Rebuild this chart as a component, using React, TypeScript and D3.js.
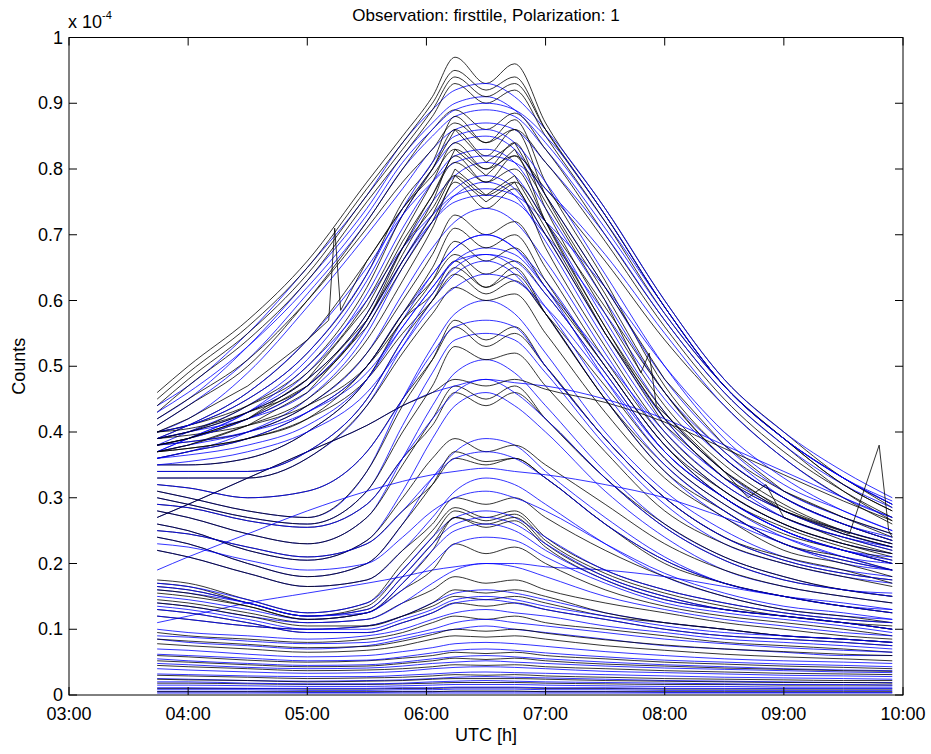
import React from "react";
import * as d3 from "d3";

// Time grid (hours UTC) shared by the series
const TIME_GRID = [3.74, 4.0, 4.5, 5.0, 5.5, 5.8, 6.05, 6.24, 6.5, 6.74, 7.0, 7.5, 8.0, 8.5, 9.0, 9.5, 9.91];

// Model curves (blue), values in units of 1e-4 counts
const BLUE_SERIES: number[][] = [
  [.44,.47,.55,.65,.76,.84,.89,.92,.93,.91,.86,.74,.60,.48,.40,.34,.30],
  [.42,.45,.53,.63,.74,.82,.87,.90,.91,.89,.84,.72,.59,.47,.39,.33,.295],
  [.41,.44,.51,.61,.72,.80,.85,.88,.89,.88,.83,.71,.58,.47,.39,.33,.29],
  [.40,.42,.49,.59,.70,.77,.83,.86,.87,.86,.81,.70,.57,.46,.38,.32,.285],
  [.38,.40,.44,.51,.63,.73,.80,.84,.85,.83,.76,.62,.48,.38,.31,.27,.245],
  [.37,.39,.43,.49,.61,.71,.78,.82,.83,.81,.74,.60,.46,.37,.30,.26,.24],
  [.39,.40,.43,.48,.58,.68,.75,.79,.81,.79,.72,.57,.43,.34,.28,.25,.23],
  [.36,.37,.40,.45,.55,.65,.72,.76,.78,.76,.69,.54,.41,.33,.27,.24,.225],
  [.37,.38,.40,.44,.52,.61,.68,.72,.74,.72,.66,.52,.39,.31,.26,.23,.215],
  [.35,.35,.36,.40,.48,.57,.64,.68,.70,.68,.62,.48,.36,.29,.24,.21,.20],
  [.33,.33,.33,.36,.44,.53,.60,.64,.66,.64,.58,.45,.34,.27,.23,.20,.19],
  [.31,.30,.28,.27,.34,.45,.53,.58,.60,.58,.52,.40,.31,.25,.21,.19,.18],
  [.30,.29,.27,.26,.31,.41,.49,.54,.55,.54,.49,.38,.29,.23,.20,.18,.17],
  [.28,.27,.245,.23,.27,.36,.44,.49,.51,.49,.44,.34,.26,.21,.18,.16,.155],
  [.26,.25,.22,.205,.235,.31,.39,.44,.46,.44,.40,.31,.24,.19,.165,.15,.14],
  [.24,.23,.20,.18,.20,.26,.33,.37,.39,.38,.34,.27,.21,.17,.15,.135,.13],
  [.22,.21,.185,.165,.175,.22,.27,.31,.33,.32,.29,.23,.18,.15,.13,.12,.115],
  [.27,.29,.33,.37,.41,.44,.46,.47,.48,.475,.47,.45,.42,.38,.34,.30,.27],
  [.19,.21,.245,.28,.31,.325,.335,.34,.345,.34,.335,.32,.30,.27,.24,.21,.19],
  [.11,.12,.14,.155,.17,.18,.19,.195,.20,.20,.195,.19,.18,.165,.15,.14,.13],
  [.17,.165,.145,.125,.14,.19,.24,.27,.28,.27,.24,.19,.16,.14,.125,.115,.11],
  [.16,.155,.14,.12,.13,.18,.23,.26,.27,.26,.23,.18,.15,.13,.12,.11,.10],
  [.15,.145,.13,.115,.125,.16,.20,.23,.24,.235,.21,.17,.14,.125,.115,.105,.095],
  [.14,.135,.12,.11,.115,.14,.17,.19,.20,.195,.18,.15,.13,.115,.105,.095,.09],
  [.12,.115,.105,.10,.105,.12,.14,.155,.16,.155,.145,.125,.11,.10,.09,.085,.08],
  [.10,.095,.09,.085,.09,.10,.115,.125,.13,.125,.12,.105,.095,.085,.08,.075,.07],
  [.085,.08,.075,.07,.075,.085,.095,.10,.105,.10,.095,.085,.075,.07,.065,.06,.06],
  [.07,.068,.062,.058,.06,.066,.072,.078,.08,.078,.074,.066,.06,.055,.052,.05,.048],
  [.055,.052,.048,.045,.046,.05,.055,.058,.06,.058,.055,.05,.046,.043,.04,.038,.037],
  [.04,.038,.035,.033,.034,.036,.04,.042,.043,.042,.04,.036,.034,.032,.03,.029,.028],
  [.025,.024,.022,.021,.022,.023,.025,.027,.028,.027,.026,.024,.022,.021,.02,.019,.019],
  [.015,.015,.014,.013,.013,.014,.015,.016,.016,.016,.015,.014,.013,.013,.012,.012,.012],
  [.008,.008,.008,.007,.007,.008,.008,.009,.009,.009,.008,.008,.007,.007,.007,.007,.007],
  [.40,.41,.45,.52,.64,.74,.81,.85,.86,.84,.78,.64,.50,.39,.32,.28,.25],
  [.36,.37,.39,.43,.50,.58,.64,.68,.70,.68,.63,.50,.38,.30,.25,.22,.21],
  [.38,.385,.40,.43,.49,.56,.62,.66,.68,.67,.62,.51,.40,.32,.27,.24,.22],
  [.35,.355,.37,.40,.46,.53,.59,.62,.64,.63,.59,.48,.37,.30,.25,.22,.20],
  [.39,.41,.46,.54,.65,.73,.78,.81,.82,.81,.77,.67,.55,.44,.36,.30,.27],
  [.37,.39,.43,.50,.60,.68,.73,.76,.77,.76,.72,.62,.50,.40,.33,.28,.25],
  [.135,.13,.115,.10,.10,.115,.13,.145,.15,.145,.135,.12,.105,.095,.09,.085,.08],
  [.005,.005,.005,.004,.004,.005,.005,.005,.005,.005,.005,.005,.004,.004,.004,.004,.004],
  [.048,.046,.042,.04,.041,.044,.048,.05,.052,.05,.048,.044,.041,.039,.037,.035,.034],
  [.032,.031,.029,.028,.028,.03,.032,.034,.035,.034,.033,.031,.029,.027,.026,.025,.024],
  [.39,.40,.42,.46,.56,.66,.73,.77,.79,.77,.70,.55,.42,.33,.28,.245,.225],
  [.36,.365,.38,.41,.48,.56,.62,.66,.67,.66,.61,.49,.37,.30,.25,.22,.205],
  [.34,.34,.34,.37,.45,.54,.61,.65,.67,.65,.59,.46,.35,.28,.23,.205,.19],
  [.32,.315,.30,.31,.37,.45,.52,.56,.57,.56,.50,.39,.30,.24,.205,.185,.175],
  [.29,.285,.265,.255,.29,.36,.42,.46,.48,.46,.42,.33,.255,.205,.175,.16,.15],
  [.25,.245,.225,.21,.23,.28,.33,.36,.37,.36,.33,.26,.205,.17,.15,.135,.125],
  [.23,.225,.205,.19,.20,.24,.28,.30,.31,.30,.28,.23,.185,.155,.135,.125,.115],
  [.165,.16,.14,.12,.125,.17,.22,.25,.26,.25,.22,.175,.145,.13,.12,.11,.10],
  [.13,.125,.11,.095,.095,.11,.125,.14,.145,.14,.13,.115,.10,.09,.085,.08,.075],
  [.09,.088,.082,.078,.08,.09,.10,.11,.115,.11,.105,.095,.085,.078,.072,.068,.065],
  [.062,.06,.056,.052,.053,.058,.064,.068,.07,.068,.064,.058,.053,.05,.047,.045,.043],
  [.02,.02,.018,.017,.017,.018,.02,.021,.022,.021,.02,.019,.018,.017,.016,.016,.015],
  [.011,.011,.01,.01,.01,.011,.011,.012,.012,.012,.011,.011,.01,.01,.01,.01,.01],
  [.003,.003,.003,.003,.003,.003,.003,.003,.003,.003,.003,.003,.003,.003,.003,.003,.003],
  [.43,.46,.53,.62,.73,.81,.86,.89,.90,.89,.85,.73,.59,.47,.39,.33,.29],
  [.38,.39,.42,.47,.57,.66,.72,.75,.76,.75,.70,.58,.45,.36,.30,.26,.235],
];

// Measured curves (black), values in units of 1e-4 counts
const BLACK_SERIES: number[][] = [
  [.46,.50,.57,.66,.78,.85,.91,.97,.93,.96,.87,.74,.60,.48,.40,.33,.29],
  [.45,.49,.56,.65,.77,.84,.90,.95,.92,.94,.86,.73,.59,.47,.39,.33,.285],
  [.43,.47,.54,.63,.75,.82,.88,.93,.90,.92,.85,.72,.58,.47,.39,.32,.28],
  [.41,.44,.50,.60,.72,.80,.86,.89,.86,.885,.83,.70,.57,.46,.38,.31,.265],
  [.40,.41,.45,.52,.64,.75,.81,.88,.84,.875,.78,.63,.47,.37,.31,.27,.24],
  [.39,.40,.44,.50,.62,.73,.80,.86,.82,.86,.76,.61,.46,.36,.30,.26,.235],
  [.40,.41,.44,.49,.60,.70,.78,.84,.80,.84,.74,.58,.44,.35,.29,.25,.23],
  [.38,.39,.42,.47,.57,.67,.75,.82,.78,.82,.72,.56,.42,.33,.28,.245,.225],
  [.37,.38,.41,.45,.54,.63,.71,.78,.74,.77,.68,.53,.40,.32,.27,.24,.22],
  [.38,.385,.40,.44,.52,.60,.67,.73,.70,.72,.65,.51,.39,.31,.26,.23,.215],
  [.39,.395,.41,.44,.50,.57,.63,.69,.66,.68,.62,.50,.38,.31,.26,.23,.21],
  [.35,.35,.36,.40,.48,.57,.61,.66,.62,.65,.58,.45,.34,.28,.23,.21,.19],
  [.33,.33,.33,.36,.44,.52,.58,.62,.60,.61,.55,.43,.33,.27,.22,.20,.18],
  [.31,.30,.28,.27,.34,.44,.51,.57,.54,.56,.50,.39,.30,.24,.21,.19,.17],
  [.30,.29,.27,.26,.31,.40,.47,.53,.51,.52,.47,.37,.28,.23,.20,.18,.165],
  [.28,.27,.245,.23,.27,.35,.42,.47,.45,.47,.42,.33,.26,.21,.18,.16,.15],
  [.26,.25,.22,.205,.235,.30,.36,.39,.37,.38,.35,.29,.23,.19,.165,.15,.14],
  [.24,.23,.20,.18,.20,.26,.32,.37,.355,.36,.33,.26,.20,.17,.15,.135,.125],
  [.22,.21,.185,.165,.175,.22,.26,.30,.29,.30,.27,.22,.18,.15,.13,.12,.11],
  [.175,.17,.145,.125,.14,.20,.25,.285,.27,.28,.24,.19,.16,.14,.125,.115,.11],
  [.17,.165,.14,.12,.135,.19,.24,.28,.265,.275,.235,.185,.155,.135,.12,.11,.105],
  [.165,.16,.14,.12,.13,.18,.23,.27,.26,.27,.23,.18,.15,.13,.12,.11,.10],
  [.155,.15,.135,.115,.125,.16,.19,.23,.215,.225,.20,.16,.135,.12,.11,.10,.09],
  [.145,.14,.125,.11,.115,.14,.16,.18,.17,.175,.16,.14,.125,.11,.10,.09,.085],
  [.12,.115,.105,.10,.105,.12,.135,.15,.145,.15,.14,.12,.11,.10,.09,.085,.08],
  [.095,.09,.085,.08,.085,.095,.11,.12,.115,.12,.11,.10,.09,.08,.075,.07,.065],
  [.078,.075,.07,.065,.068,.075,.085,.09,.088,.09,.085,.075,.068,.062,.058,.055,.052],
  [.06,.058,.053,.05,.052,.056,.06,.065,.063,.065,.06,.055,.05,.047,.044,.042,.04],
  [.045,.043,.04,.037,.038,.04,.043,.046,.045,.046,.043,.04,.037,.035,.033,.032,.031],
  [.03,.029,.027,.025,.026,.027,.029,.031,.03,.031,.029,.027,.025,.024,.023,.022,.022],
  [.018,.018,.017,.016,.016,.017,.018,.019,.019,.019,.018,.017,.016,.016,.015,.015,.015],
  [.01,.01,.01,.009,.009,.01,.01,.011,.011,.011,.01,.01,.009,.009,.009,.009,.009],
  [.42,.45,.51,.60,.71,.78,.83,.87,.84,.86,.81,.69,.56,.45,.37,.31,.27],
  [.39,.41,.46,.54,.66,.74,.79,.83,.80,.82,.77,.66,.54,.44,.36,.30,.26],
  [.36,.37,.39,.43,.50,.58,.63,.67,.64,.66,.61,.49,.37,.30,.25,.22,.20],
  [.37,.375,.39,.42,.48,.55,.60,.64,.61,.63,.58,.47,.36,.29,.245,.22,.20],
  [.27,.29,.33,.37,.41,.44,.46,.48,.47,.48,.465,.445,.415,.375,.335,.295,.265],
  [.14,.135,.12,.105,.105,.12,.14,.16,.155,.16,.15,.125,.11,.10,.09,.085,.08],
  [.40,.405,.43,.47,.57,.68,.76,.81,.78,.80,.72,.56,.43,.34,.285,.25,.23],
  [.37,.375,.39,.42,.50,.58,.65,.71,.68,.70,.63,.50,.38,.30,.255,.225,.205],
  [.34,.34,.34,.37,.45,.54,.60,.65,.62,.64,.58,.45,.35,.28,.23,.205,.19],
  [.32,.315,.30,.31,.37,.45,.51,.56,.53,.55,.50,.39,.30,.24,.205,.185,.175],
  [.29,.285,.265,.255,.29,.36,.41,.46,.44,.46,.42,.33,.255,.205,.175,.16,.15],
  [.25,.245,.225,.21,.23,.28,.32,.36,.35,.36,.33,.26,.205,.17,.15,.135,.125],
  [.16,.155,.135,.115,.125,.17,.22,.27,.255,.265,.225,.175,.145,.13,.12,.11,.10],
  [.13,.125,.11,.095,.095,.11,.125,.14,.135,.14,.13,.115,.10,.09,.085,.08,.075],
  [.085,.082,.077,.072,.074,.082,.092,.10,.097,.10,.094,.084,.076,.07,.066,.062,.06],
  [.052,.05,.046,.043,.044,.048,.052,.056,.054,.056,.052,.047,.044,.041,.039,.037,.036],
  [.024,.023,.022,.02,.021,.022,.024,.025,.025,.025,.024,.022,.021,.02,.019,.019,.018],
  [.005,.005,.005,.005,.005,.005,.005,.006,.006,.006,.005,.005,.005,.005,.005,.005,.005],
  [.44,.48,.55,.64,.76,.83,.89,.94,.91,.93,.86,.73,.59,.47,.39,.32,.28],
  [.39,.40,.43,.48,.58,.68,.74,.79,.76,.78,.72,.59,.46,.36,.30,.26,.235],
];

// Measured curves with glitches (black), each with its own time stamps
const SPIKE_TIMES: number[][] = [
  [3.74, 4.0, 4.5, 5.0, 5.18, 5.23, 5.28, 5.5, 5.8, 6.05, 6.24, 6.5, 6.74, 7.0, 7.5, 8.0, 8.5, 9.0, 9.5, 9.91],
  [3.74, 4.0, 4.5, 5.0, 5.5, 5.8, 6.05, 6.24, 6.5, 6.74, 7.0, 7.5, 7.8, 7.87, 7.93, 8.5, 9.0, 9.5, 9.91],
  [3.74, 4.0, 4.5, 5.0, 5.5, 5.8, 6.05, 6.24, 6.5, 6.74, 7.0, 7.5, 8.0, 8.5, 9.0, 9.55, 9.8, 9.88, 9.91],
  [3.74, 4.0, 4.5, 5.0, 5.5, 5.8, 6.05, 6.24, 6.5, 6.74, 7.0, 7.5, 8.0, 8.5, 8.7, 8.85, 9.0, 9.5, 9.91],
];
const SPIKE_VALUES: number[][] = [
  [.40, .42, .47, .54, .57, .71, .585, .66, .74, .80, .86, .81, .84, .76, .62, .48, .38, .31, .27, .245],
  [.38, .39, .42, .48, .59, .69, .76, .83, .79, .83, .75, .60, .49, .52, .44, .34, .28, .245, .225],
  [.38, .39, .42, .47, .57, .66, .73, .80, .76, .79, .71, .55, .41, .33, .28, .245, .38, .25, .24],
  [.37, .38, .41, .46, .56, .65, .72, .79, .75, .78, .70, .55, .42, .34, .30, .32, .27, .235, .215],
];

const X_TICKS = [3, 4, 5, 6, 7, 8, 9, 10];
const X_TICK_LABELS = ["03:00", "04:00", "05:00", "06:00", "07:00", "08:00", "09:00", "10:00"];
const Y_TICKS = [0, 0.1, 0.2, 0.3, 0.4, 0.5, 0.6, 0.7, 0.8, 0.9, 1];
const Y_TICK_LABELS = ["0", "0.1", "0.2", "0.3", "0.4", "0.5", "0.6", "0.7", "0.8", "0.9", "1"];

const TITLE = "Observation: firsttile, Polarization: 1";
const X_LABEL = "UTC [h]";
const Y_LABEL = "Counts";

export default function App() {
  const W = 931, H = 754;
  const left = 69, right = 903, top = 37.5, bottom = 695;
  const x = d3.scaleLinear().domain([3, 10]).range([left, right]);
  const y = d3.scaleLinear().domain([0, 1]).range([bottom, top]);
  const font = "'Liberation Sans', Arial, Helvetica, sans-serif";

  const gridLine = d3.line<number>()
    .x((_, i) => x(TIME_GRID[i]))
    .y((d) => y(d))
    .curve(d3.curveMonotoneX);
  const pairLine = d3.line<[number, number]>()
    .x((d) => x(d[0]))
    .y((d) => y(d[1]))
    .curve(d3.curveLinear);

  const n = Math.max(BLUE_SERIES.length, BLACK_SERIES.length);
  const paths: React.ReactNode[] = [];
  for (let i = 0; i < n; i++) {
    if (i < BLACK_SERIES.length) {
      paths.push(
        <path key={"k" + i} d={gridLine(BLACK_SERIES[i]) || ""} fill="none" stroke="#000" strokeWidth={0.8} />
      );
    }
    if (i < BLUE_SERIES.length) {
      paths.push(
        <path key={"b" + i} d={gridLine(BLUE_SERIES[i]) || ""} fill="none" stroke="#0000ff" strokeWidth={0.8} />
      );
    }
  }
  SPIKE_TIMES.forEach((ts, i) => {
    const pts = ts.map((t, j) => [t, SPIKE_VALUES[i][j]] as [number, number]);
    paths.push(
      <path key={"s" + i} d={pairLine(pts) || ""} fill="none" stroke="#000" strokeWidth={0.8} />
    );
  });

  const tl = 8;
  return (
    <div style={{ position: "absolute", left: 0, top: 0 }}>
      <svg width={W} height={H} style={{ display: "block", background: "#fff" }}>
        <rect x={0} y={0} width={W} height={H} fill="#fff" />
        <g>{paths}</g>
        <rect x={left} y={top} width={right - left} height={bottom - top} fill="none" stroke="#000" strokeWidth={1} />
        {X_TICKS.map((t, i) => (
          <g key={"xt" + i}>
            <line x1={x(t)} x2={x(t)} y1={bottom} y2={bottom - tl} stroke="#000" />
            <line x1={x(t)} x2={x(t)} y1={top} y2={top + tl} stroke="#000" />
            <text x={x(t)} y={720} textAnchor="middle" fontFamily={font} fontSize={18} fill="#000">{X_TICK_LABELS[i]}</text>
          </g>
        ))}
        {Y_TICKS.map((v, i) => (
          <g key={"yt" + i}>
            <line x1={left} x2={left + tl} y1={y(v)} y2={y(v)} stroke="#000" />
            <line x1={right} x2={right - tl} y1={y(v)} y2={y(v)} stroke="#000" />
            <text x={63} y={y(v) + 6} textAnchor="end" fontFamily={font} fontSize={18} fill="#000">{Y_TICK_LABELS[i]}</text>
          </g>
        ))}
        <text x={68} y={28} fontFamily={font} fontSize={18} fill="#000">
          x 10<tspan dy={-9} fontSize={11}>-4</tspan>
        </text>
        <text x={(left + right) / 2} y={21} textAnchor="middle" fontFamily={font} fontSize={17} fill="#000">{TITLE}</text>
        <text x={(left + right) / 2} y={741} textAnchor="middle" fontFamily={font} fontSize={18} fill="#000">{X_LABEL}</text>
        <text transform={`translate(25, ${(top + bottom) / 2}) rotate(-90)`} textAnchor="middle" fontFamily={font} fontSize={18} fill="#000">{Y_LABEL}</text>
      </svg>
    </div>
  );
}
